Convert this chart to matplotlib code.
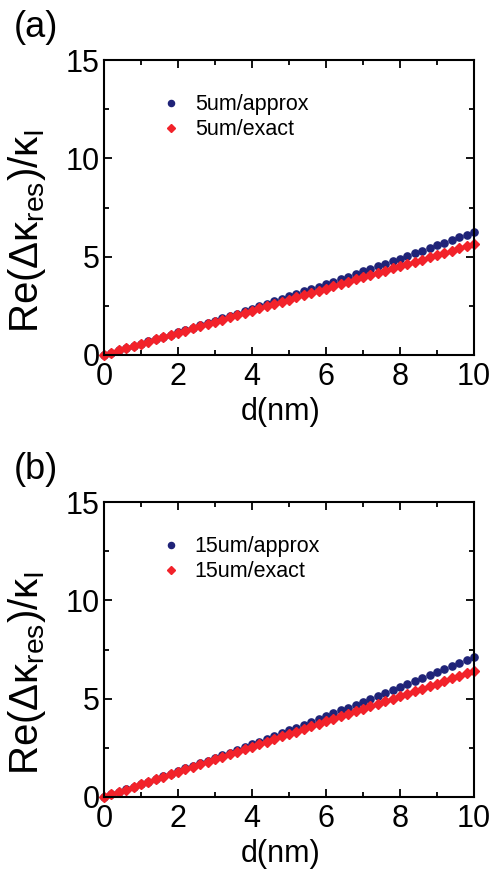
import numpy as np
import matplotlib
matplotlib.use("Agg")
import matplotlib.pyplot as plt
from matplotlib.ticker import MultipleLocator

plt.rcParams['font.family'] = ['Liberation Sans', 'DejaVu Sans']
plt.rcParams['mathtext.fontset'] = 'custom'
plt.rcParams['mathtext.rm'] = 'Liberation Sans'
plt.rcParams['mathtext.it'] = 'Liberation Sans'

# d in nm, sampled every 0.2 nm
d = np.linspace(0, 10, 51)

# panel (a): 5um
approx_5 = [0.00, 0.11, 0.23, 0.34, 0.46, 0.57, 0.69, 0.80, 0.92, 1.04,
            1.15, 1.27, 1.39, 1.51, 1.63, 1.75, 1.87, 1.99, 2.11, 2.23,
            2.36, 2.48, 2.60, 2.73, 2.85, 2.98, 3.10, 3.23, 3.35, 3.48,
            3.61, 3.73, 3.86, 3.99, 4.12, 4.25, 4.38, 4.51, 4.64, 4.77,
            4.90, 5.04, 5.17, 5.30, 5.44, 5.57, 5.71, 5.84, 5.98, 6.11,
            6.25]
exact_5 = [0.00, 0.11, 0.23, 0.34, 0.45, 0.56, 0.68, 0.79, 0.90, 1.02,
           1.13, 1.24, 1.35, 1.47, 1.58, 1.69, 1.80, 1.92, 2.03, 2.14,
           2.26, 2.37, 2.48, 2.59, 2.71, 2.82, 2.93, 3.05, 3.16, 3.27,
           3.38, 3.50, 3.61, 3.72, 3.84, 3.95, 4.06, 4.17, 4.29, 4.40,
           4.51, 4.63, 4.74, 4.85, 4.96, 5.08, 5.19, 5.30, 5.42, 5.53,
           5.64]

# panel (b): 15um
approx_15 = [0.00, 0.13, 0.26, 0.39, 0.52, 0.65, 0.78, 0.91, 1.05, 1.18,
             1.31, 1.45, 1.58, 1.72, 1.85, 1.99, 2.13, 2.26, 2.40, 2.54,
             2.68, 2.82, 2.96, 3.10, 3.24, 3.39, 3.53, 3.67, 3.81, 3.96,
             4.10, 4.25, 4.40, 4.54, 4.69, 4.84, 4.99, 5.13, 5.28, 5.43,
             5.58, 5.74, 5.89, 6.04, 6.19, 6.35, 6.50, 6.65, 6.81, 6.96,
             7.12]
exact_15 = [0.00, 0.13, 0.26, 0.38, 0.51, 0.64, 0.77, 0.90, 1.03, 1.15,
            1.28, 1.41, 1.54, 1.67, 1.79, 1.92, 2.05, 2.18, 2.31, 2.44,
            2.56, 2.69, 2.82, 2.95, 3.08, 3.21, 3.33, 3.46, 3.59, 3.72,
            3.85, 3.97, 4.10, 4.23, 4.36, 4.49, 4.62, 4.74, 4.87, 5.00,
            5.13, 5.26, 5.38, 5.51, 5.64, 5.77, 5.90, 6.03, 6.15, 6.28,
            6.41]

panels = [
    ("(a)", approx_5, exact_5, "5um/approx", "5um/exact"),
    ("(b)", approx_15, exact_15, "15um/approx", "15um/exact"),
]

BLUE = "#1f2378"
RED = "#f2222a"

W, H = 492, 873
fig = plt.figure(figsize=(W / 100, H / 100), dpi=100)

# axes boxes in pixels: left, top, right, bottom
boxes = [(104, 60, 474, 355), (104, 502, 474, 797)]

for (tag, ap, ex, lab_ap, lab_ex), (l, t, r, b) in zip(panels, boxes):
    ax = fig.add_axes([l / W, 1 - b / H, (r - l) / W, (b - t) / H])
    ax.plot(d, ap, 'o', color=BLUE, ms=5.2, mec=BLUE, label=lab_ap, clip_on=False)
    ax.plot(d, ex, 'D', color=RED, ms=4.8, mec=RED, label=lab_ex, clip_on=False)
    ax.set_xlim(0, 10)
    ax.set_ylim(0, 15)
    ax.xaxis.set_major_locator(MultipleLocator(2))
    ax.xaxis.set_minor_locator(MultipleLocator(1))
    ax.yaxis.set_major_locator(MultipleLocator(5))
    ax.yaxis.set_minor_locator(MultipleLocator(2.5))
    ax.tick_params(which='both', direction='in', top=True, right=True,
                   width=1.3, labelsize=22)
    ax.tick_params(which='major', length=6)
    ax.tick_params(which='minor', length=3.5)
    ax.tick_params(axis='x', pad=5)
    ax.tick_params(axis='y', pad=3)
    for s in ax.spines.values():
        s.set_linewidth(1.5)
    ax.set_xlabel("d(nm)", fontsize=22)
    ax.xaxis.set_label_coords(0.478, -0.142)
    ax.set_ylabel(r"Re($\Delta\kappa_{\rm res}$)/$\kappa_{\rm I}$", fontsize=29)
    ax.yaxis.set_label_coords(-0.15, 0.42)
    ax.legend(loc='upper left', bbox_to_anchor=(0.1, 0.95), frameon=False,
              fontsize=15.5, handletextpad=0.6, labelspacing=0.2,
              markerscale=0.85, handlelength=1.0)
    fig.text(14 / W, 1 - (t - 50) / H, tag, fontsize=26, va='top', ha='left')

fig.savefig("out.png", dpi=100)
